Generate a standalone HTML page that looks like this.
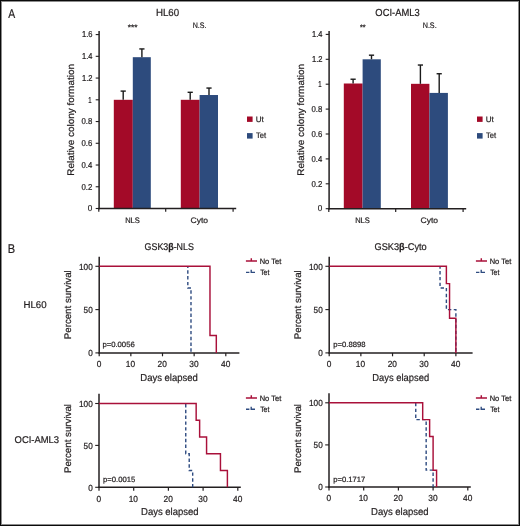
<!DOCTYPE html><html><head><meta charset="utf-8"><style>html,body{margin:0;padding:0;background:#fff;}svg{display:block;will-change:transform;text-rendering:geometricPrecision;}</style></head><body>
<svg width="520" height="526" viewBox="0 0 520 526" font-family='"Liberation Sans", sans-serif'>
<rect x="0" y="0" width="520" height="526" fill="#fff"/>
<text x="8.28" y="17.80" font-size="12.6" textLength="6.94" lengthAdjust="spacingAndGlyphs" fill="#231f20" stroke="#231f20" stroke-width="0.22">A</text>
<text x="7.69" y="252.50" font-size="12.6" textLength="7.39" lengthAdjust="spacingAndGlyphs" fill="#231f20" stroke="#231f20" stroke-width="0.22">B</text>
<rect x="113.80" y="99.80" width="19.00" height="108.70" fill="#a30a28"/>
<rect x="132.80" y="57.19" width="18.00" height="151.31" fill="#2d4b7d"/>
<rect x="180.80" y="99.80" width="18.80" height="108.70" fill="#a30a28"/>
<rect x="199.60" y="95.02" width="18.40" height="113.48" fill="#2d4b7d"/>
<line x1="123.20" y1="99.80" x2="123.20" y2="91.10" stroke="#1a1a1a" stroke-width="1.4"/>
<line x1="120.60" y1="91.10" x2="125.80" y2="91.10" stroke="#1a1a1a" stroke-width="1.4"/>
<line x1="141.90" y1="57.19" x2="141.90" y2="48.93" stroke="#1a1a1a" stroke-width="1.4"/>
<line x1="139.30" y1="48.93" x2="144.50" y2="48.93" stroke="#1a1a1a" stroke-width="1.4"/>
<line x1="190.20" y1="99.80" x2="190.20" y2="92.30" stroke="#1a1a1a" stroke-width="1.4"/>
<line x1="187.60" y1="92.30" x2="192.80" y2="92.30" stroke="#1a1a1a" stroke-width="1.4"/>
<line x1="209.00" y1="95.02" x2="209.00" y2="88.06" stroke="#1a1a1a" stroke-width="1.4"/>
<line x1="206.40" y1="88.06" x2="211.60" y2="88.06" stroke="#1a1a1a" stroke-width="1.4"/>
<line x1="99.10" y1="30.90" x2="99.10" y2="209.25" stroke="#231f20" stroke-width="1.5"/>
<line x1="98.35" y1="208.50" x2="236.20" y2="208.50" stroke="#231f20" stroke-width="1.5"/>
<line x1="95.70" y1="208.50" x2="99.10" y2="208.50" stroke="#231f20" stroke-width="1.1"/>
<text x="87.68" y="211.25" font-size="8.6" textLength="4.54" lengthAdjust="spacingAndGlyphs" fill="#231f20" stroke="#231f20" stroke-width="0.22">0</text>
<line x1="95.70" y1="186.76" x2="99.10" y2="186.76" stroke="#231f20" stroke-width="1.1"/>
<text x="81.49" y="189.51" font-size="8.6" textLength="10.90" lengthAdjust="spacingAndGlyphs" fill="#231f20" stroke="#231f20" stroke-width="0.22">0.2</text>
<line x1="95.70" y1="165.02" x2="99.10" y2="165.02" stroke="#231f20" stroke-width="1.1"/>
<text x="81.50" y="167.77" font-size="8.6" textLength="10.73" lengthAdjust="spacingAndGlyphs" fill="#231f20" stroke="#231f20" stroke-width="0.22">0.4</text>
<line x1="95.70" y1="143.28" x2="99.10" y2="143.28" stroke="#231f20" stroke-width="1.1"/>
<text x="81.50" y="146.03" font-size="8.6" textLength="10.85" lengthAdjust="spacingAndGlyphs" fill="#231f20" stroke="#231f20" stroke-width="0.22">0.6</text>
<line x1="95.70" y1="121.54" x2="99.10" y2="121.54" stroke="#231f20" stroke-width="1.1"/>
<text x="81.50" y="124.29" font-size="8.6" textLength="10.84" lengthAdjust="spacingAndGlyphs" fill="#231f20" stroke="#231f20" stroke-width="0.22">0.8</text>
<line x1="95.70" y1="99.80" x2="99.10" y2="99.80" stroke="#231f20" stroke-width="1.1"/>
<text x="88.24" y="102.55" font-size="8.6" textLength="3.35" lengthAdjust="spacingAndGlyphs" fill="#231f20" stroke="#231f20" stroke-width="0.22">1</text>
<line x1="95.70" y1="78.06" x2="99.10" y2="78.06" stroke="#231f20" stroke-width="1.1"/>
<text x="82.02" y="80.81" font-size="8.6" textLength="10.56" lengthAdjust="spacingAndGlyphs" fill="#231f20" stroke="#231f20" stroke-width="0.22">1.2</text>
<line x1="95.70" y1="56.32" x2="99.10" y2="56.32" stroke="#231f20" stroke-width="1.1"/>
<text x="82.03" y="59.07" font-size="8.6" textLength="10.39" lengthAdjust="spacingAndGlyphs" fill="#231f20" stroke="#231f20" stroke-width="0.22">1.4</text>
<line x1="95.70" y1="34.58" x2="99.10" y2="34.58" stroke="#231f20" stroke-width="1.1"/>
<text x="82.02" y="37.33" font-size="8.6" textLength="10.51" lengthAdjust="spacingAndGlyphs" fill="#231f20" stroke="#231f20" stroke-width="0.22">1.6</text>
<line x1="98.80" y1="208.50" x2="98.80" y2="211.70" stroke="#231f20" stroke-width="1.2"/>
<line x1="165.70" y1="208.50" x2="165.70" y2="211.70" stroke="#231f20" stroke-width="1.2"/>
<line x1="233.10" y1="208.50" x2="233.10" y2="211.70" stroke="#231f20" stroke-width="1.2"/>
<text x="125.18" y="222.70" font-size="8.0" textLength="14.66" lengthAdjust="spacingAndGlyphs" fill="#231f20" stroke="#231f20" stroke-width="0.22">NLS</text>
<text x="190.57" y="222.90" font-size="8.0" textLength="17.49" lengthAdjust="spacingAndGlyphs" fill="#231f20" stroke="#231f20" stroke-width="0.22">Cyto</text>
<rect x="247.00" y="116.50" width="5.60" height="5.40" fill="#a30a28"/>
<rect x="247.00" y="133.10" width="5.60" height="5.50" fill="#2d4b7d"/>
<text x="255.68" y="121.90" font-size="8.0" textLength="7.97" lengthAdjust="spacingAndGlyphs" fill="#231f20" stroke="#231f20" stroke-width="0.22">Ut</text>
<text x="255.94" y="138.40" font-size="8.0" textLength="10.11" lengthAdjust="spacingAndGlyphs" fill="#231f20" stroke="#231f20" stroke-width="0.22">Tet</text>
<text x="155.90" y="16.00" font-size="10.2" textLength="23.17" lengthAdjust="spacingAndGlyphs" fill="#231f20" stroke="#231f20" stroke-width="0.22">HL60</text>
<text x="127.77" y="30.20" font-size="7.9" textLength="9.66" lengthAdjust="spacingAndGlyphs" fill="#231f20" stroke="#231f20" stroke-width="0.22">***</text>
<text x="192.72" y="28.30" font-size="8.0" textLength="13.72" lengthAdjust="spacingAndGlyphs" fill="#231f20" stroke="#231f20" stroke-width="0.22">N.S.</text>
<text transform="translate(74.10,174.90) rotate(-90)" x="-0.82" y="0" font-size="9.6" textLength="111.66" lengthAdjust="spacingAndGlyphs" fill="#231f20" stroke="#231f20" stroke-width="0.22">Relative colony formation</text>
<rect x="343.80" y="83.50" width="18.80" height="125.20" fill="#a30a28"/>
<rect x="362.60" y="59.30" width="18.20" height="149.40" fill="#2d4b7d"/>
<rect x="411.00" y="83.83" width="18.40" height="124.87" fill="#a30a28"/>
<rect x="429.40" y="92.91" width="18.50" height="115.79" fill="#2d4b7d"/>
<line x1="353.10" y1="83.50" x2="353.10" y2="79.22" stroke="#1a1a1a" stroke-width="1.4"/>
<line x1="350.50" y1="79.22" x2="355.70" y2="79.22" stroke="#1a1a1a" stroke-width="1.4"/>
<line x1="371.50" y1="59.30" x2="371.50" y2="55.19" stroke="#1a1a1a" stroke-width="1.4"/>
<line x1="368.90" y1="55.19" x2="374.10" y2="55.19" stroke="#1a1a1a" stroke-width="1.4"/>
<line x1="420.40" y1="83.83" x2="420.40" y2="65.03" stroke="#1a1a1a" stroke-width="1.4"/>
<line x1="417.80" y1="65.03" x2="423.00" y2="65.03" stroke="#1a1a1a" stroke-width="1.4"/>
<line x1="439.20" y1="92.91" x2="439.20" y2="73.74" stroke="#1a1a1a" stroke-width="1.4"/>
<line x1="436.60" y1="73.74" x2="441.80" y2="73.74" stroke="#1a1a1a" stroke-width="1.4"/>
<line x1="329.10" y1="30.90" x2="329.10" y2="209.45" stroke="#231f20" stroke-width="1.5"/>
<line x1="328.35" y1="208.70" x2="466.20" y2="208.70" stroke="#231f20" stroke-width="1.5"/>
<line x1="325.70" y1="208.70" x2="329.10" y2="208.70" stroke="#231f20" stroke-width="1.1"/>
<text x="317.68" y="211.45" font-size="8.6" textLength="4.54" lengthAdjust="spacingAndGlyphs" fill="#231f20" stroke="#231f20" stroke-width="0.22">0</text>
<line x1="325.70" y1="183.80" x2="329.10" y2="183.80" stroke="#231f20" stroke-width="1.1"/>
<text x="311.49" y="186.55" font-size="8.6" textLength="10.90" lengthAdjust="spacingAndGlyphs" fill="#231f20" stroke="#231f20" stroke-width="0.22">0.2</text>
<line x1="325.70" y1="158.90" x2="329.10" y2="158.90" stroke="#231f20" stroke-width="1.1"/>
<text x="311.50" y="161.65" font-size="8.6" textLength="10.73" lengthAdjust="spacingAndGlyphs" fill="#231f20" stroke="#231f20" stroke-width="0.22">0.4</text>
<line x1="325.70" y1="134.00" x2="329.10" y2="134.00" stroke="#231f20" stroke-width="1.1"/>
<text x="311.50" y="136.75" font-size="8.6" textLength="10.85" lengthAdjust="spacingAndGlyphs" fill="#231f20" stroke="#231f20" stroke-width="0.22">0.6</text>
<line x1="325.70" y1="109.10" x2="329.10" y2="109.10" stroke="#231f20" stroke-width="1.1"/>
<text x="311.50" y="111.85" font-size="8.6" textLength="10.84" lengthAdjust="spacingAndGlyphs" fill="#231f20" stroke="#231f20" stroke-width="0.22">0.8</text>
<line x1="325.70" y1="84.20" x2="329.10" y2="84.20" stroke="#231f20" stroke-width="1.1"/>
<text x="318.24" y="86.95" font-size="8.6" textLength="3.35" lengthAdjust="spacingAndGlyphs" fill="#231f20" stroke="#231f20" stroke-width="0.22">1</text>
<line x1="325.70" y1="59.30" x2="329.10" y2="59.30" stroke="#231f20" stroke-width="1.1"/>
<text x="312.02" y="62.05" font-size="8.6" textLength="10.56" lengthAdjust="spacingAndGlyphs" fill="#231f20" stroke="#231f20" stroke-width="0.22">1.2</text>
<line x1="325.70" y1="34.40" x2="329.10" y2="34.40" stroke="#231f20" stroke-width="1.1"/>
<text x="312.03" y="37.15" font-size="8.6" textLength="10.39" lengthAdjust="spacingAndGlyphs" fill="#231f20" stroke="#231f20" stroke-width="0.22">1.4</text>
<line x1="328.80" y1="208.70" x2="328.80" y2="211.90" stroke="#231f20" stroke-width="1.2"/>
<line x1="395.70" y1="208.70" x2="395.70" y2="211.90" stroke="#231f20" stroke-width="1.2"/>
<line x1="463.10" y1="208.70" x2="463.10" y2="211.90" stroke="#231f20" stroke-width="1.2"/>
<text x="355.18" y="222.70" font-size="8.0" textLength="14.66" lengthAdjust="spacingAndGlyphs" fill="#231f20" stroke="#231f20" stroke-width="0.22">NLS</text>
<text x="420.57" y="222.90" font-size="8.0" textLength="17.49" lengthAdjust="spacingAndGlyphs" fill="#231f20" stroke="#231f20" stroke-width="0.22">Cyto</text>
<rect x="477.00" y="116.50" width="5.60" height="5.40" fill="#a30a28"/>
<rect x="477.00" y="133.10" width="5.60" height="5.50" fill="#2d4b7d"/>
<text x="485.68" y="121.90" font-size="8.0" textLength="7.97" lengthAdjust="spacingAndGlyphs" fill="#231f20" stroke="#231f20" stroke-width="0.22">Ut</text>
<text x="485.94" y="138.40" font-size="8.0" textLength="10.11" lengthAdjust="spacingAndGlyphs" fill="#231f20" stroke="#231f20" stroke-width="0.22">Tet</text>
<text x="375.36" y="16.00" font-size="10.2" textLength="44.26" lengthAdjust="spacingAndGlyphs" fill="#231f20" stroke="#231f20" stroke-width="0.22">OCI-AML3</text>
<text x="359.88" y="30.20" font-size="7.9" textLength="5.63" lengthAdjust="spacingAndGlyphs" fill="#231f20" stroke="#231f20" stroke-width="0.22">**</text>
<text x="422.71" y="28.30" font-size="8.0" textLength="13.94" lengthAdjust="spacingAndGlyphs" fill="#231f20" stroke="#231f20" stroke-width="0.22">N.S.</text>
<text transform="translate(304.10,174.90) rotate(-90)" x="-0.82" y="0" font-size="9.6" textLength="111.66" lengthAdjust="spacingAndGlyphs" fill="#231f20" stroke="#231f20" stroke-width="0.22">Relative colony formation</text>
<text x="144.55" y="250.20" font-size="9.8" textLength="49.35" lengthAdjust="spacingAndGlyphs" fill="#231f20" stroke="#231f20" stroke-width="0.22">GSK3<tspan font-weight="bold">β</tspan>-NLS</text>
<text x="374.54" y="250.20" font-size="9.8" textLength="52.15" lengthAdjust="spacingAndGlyphs" fill="#231f20" stroke="#231f20" stroke-width="0.22">GSK3<tspan font-weight="bold">β</tspan>-Cyto</text>
<text x="23.51" y="308.20" font-size="9.8" textLength="23.07" lengthAdjust="spacingAndGlyphs" fill="#231f20" stroke="#231f20" stroke-width="0.22">HL60</text>
<text x="14.55" y="442.50" font-size="9.8" textLength="44.56" lengthAdjust="spacingAndGlyphs" fill="#231f20" stroke="#231f20" stroke-width="0.22">OCI-AML3</text>
<line x1="99.20" y1="256.70" x2="99.20" y2="353.60" stroke="#231f20" stroke-width="1.5"/>
<line x1="98.50" y1="352.90" x2="239.40" y2="352.90" stroke="#231f20" stroke-width="1.5"/>
<line x1="95.40" y1="352.90" x2="99.20" y2="352.90" stroke="#231f20" stroke-width="1.1"/>
<text x="88.15" y="356.10" font-size="8.8" textLength="4.58" lengthAdjust="spacingAndGlyphs" fill="#231f20" stroke="#231f20" stroke-width="0.22">0</text>
<line x1="95.40" y1="309.60" x2="99.20" y2="309.60" stroke="#231f20" stroke-width="1.1"/>
<text x="83.57" y="312.80" font-size="8.8" textLength="9.15" lengthAdjust="spacingAndGlyphs" fill="#231f20" stroke="#231f20" stroke-width="0.22">50</text>
<line x1="95.40" y1="266.30" x2="99.20" y2="266.30" stroke="#231f20" stroke-width="1.1"/>
<text x="78.99" y="269.50" font-size="8.8" textLength="13.73" lengthAdjust="spacingAndGlyphs" fill="#231f20" stroke="#231f20" stroke-width="0.22">100</text>
<line x1="99.20" y1="352.90" x2="99.20" y2="356.30" stroke="#231f20" stroke-width="1.2"/>
<text x="96.68" y="367.20" font-size="8.8" textLength="4.65" lengthAdjust="spacingAndGlyphs" fill="#231f20" stroke="#231f20" stroke-width="0.22">0</text>
<line x1="130.85" y1="352.90" x2="130.85" y2="356.30" stroke="#231f20" stroke-width="1.2"/>
<text x="125.85" y="367.20" font-size="8.8" textLength="9.30" lengthAdjust="spacingAndGlyphs" fill="#231f20" stroke="#231f20" stroke-width="0.22">10</text>
<line x1="162.50" y1="352.90" x2="162.50" y2="356.30" stroke="#231f20" stroke-width="1.2"/>
<text x="157.60" y="367.20" font-size="8.8" textLength="9.30" lengthAdjust="spacingAndGlyphs" fill="#231f20" stroke="#231f20" stroke-width="0.22">20</text>
<line x1="194.15" y1="352.90" x2="194.15" y2="356.30" stroke="#231f20" stroke-width="1.2"/>
<text x="189.30" y="367.20" font-size="8.8" textLength="9.30" lengthAdjust="spacingAndGlyphs" fill="#231f20" stroke="#231f20" stroke-width="0.22">30</text>
<line x1="225.80" y1="352.90" x2="225.80" y2="356.30" stroke="#231f20" stroke-width="1.2"/>
<text x="221.02" y="367.20" font-size="8.8" textLength="9.30" lengthAdjust="spacingAndGlyphs" fill="#231f20" stroke="#231f20" stroke-width="0.22">40</text>
<path d="M187.82,266.30 L187.82,287.95 L190.99,287.95 L190.99,352.90" fill="none" stroke="#2e4b80" stroke-width="1.4" stroke-dasharray="3.4,2.4" stroke-dashoffset="1.8"/>
<path d="M99.20,266.30 L209.98,266.30 L209.98,335.58 L216.31,335.58 L216.31,352.90" fill="none" stroke="#a9103a" stroke-width="1.45"/>
<text x="102.40" y="347.30" font-size="7.6" textLength="32.33" lengthAdjust="spacingAndGlyphs" fill="#231f20" stroke="#231f20" stroke-width="0.22">p=0.0056</text>
<path d="M245.90,261.00 L257.00,261.00 M251.30,261.00 L251.30,258.20" fill="none" stroke="#a9103a" stroke-width="1.45"/>
<path d="M246.00,272.30 L249.40,272.30 M251.20,269.70 L251.20,272.30 L255.00,272.30" fill="none" stroke="#2e4b80" stroke-width="1.35"/>
<text x="259.71" y="263.55" font-size="7.8" textLength="21.54" lengthAdjust="spacingAndGlyphs" fill="#231f20" stroke="#231f20" stroke-width="0.22">No Tet</text>
<text x="260.16" y="274.55" font-size="7.8" textLength="9.19" lengthAdjust="spacingAndGlyphs" fill="#231f20" stroke="#231f20" stroke-width="0.22">Tet</text>
<text x="140.32" y="381.00" font-size="10.1" textLength="57.49" lengthAdjust="spacingAndGlyphs" fill="#231f20" stroke="#231f20" stroke-width="0.22">Days elapsed</text>
<text transform="translate(71.00,338.40) rotate(-90)" x="-0.80" y="0" font-size="9.6" textLength="68.94" lengthAdjust="spacingAndGlyphs" fill="#231f20" stroke="#231f20" stroke-width="0.22">Percent survival</text>
<line x1="329.20" y1="256.70" x2="329.20" y2="353.60" stroke="#231f20" stroke-width="1.5"/>
<line x1="328.50" y1="352.90" x2="472.60" y2="352.90" stroke="#231f20" stroke-width="1.5"/>
<line x1="325.40" y1="352.90" x2="329.20" y2="352.90" stroke="#231f20" stroke-width="1.1"/>
<text x="318.15" y="356.10" font-size="8.8" textLength="4.58" lengthAdjust="spacingAndGlyphs" fill="#231f20" stroke="#231f20" stroke-width="0.22">0</text>
<line x1="325.40" y1="309.60" x2="329.20" y2="309.60" stroke="#231f20" stroke-width="1.1"/>
<text x="313.57" y="312.80" font-size="8.8" textLength="9.15" lengthAdjust="spacingAndGlyphs" fill="#231f20" stroke="#231f20" stroke-width="0.22">50</text>
<line x1="325.40" y1="266.30" x2="329.20" y2="266.30" stroke="#231f20" stroke-width="1.1"/>
<text x="308.99" y="269.50" font-size="8.8" textLength="13.73" lengthAdjust="spacingAndGlyphs" fill="#231f20" stroke="#231f20" stroke-width="0.22">100</text>
<line x1="329.20" y1="352.90" x2="329.20" y2="356.30" stroke="#231f20" stroke-width="1.2"/>
<text x="326.68" y="367.20" font-size="8.8" textLength="4.65" lengthAdjust="spacingAndGlyphs" fill="#231f20" stroke="#231f20" stroke-width="0.22">0</text>
<line x1="360.87" y1="352.90" x2="360.87" y2="356.30" stroke="#231f20" stroke-width="1.2"/>
<text x="355.87" y="367.20" font-size="8.8" textLength="9.30" lengthAdjust="spacingAndGlyphs" fill="#231f20" stroke="#231f20" stroke-width="0.22">10</text>
<line x1="392.54" y1="352.90" x2="392.54" y2="356.30" stroke="#231f20" stroke-width="1.2"/>
<text x="387.64" y="367.20" font-size="8.8" textLength="9.30" lengthAdjust="spacingAndGlyphs" fill="#231f20" stroke="#231f20" stroke-width="0.22">20</text>
<line x1="424.21" y1="352.90" x2="424.21" y2="356.30" stroke="#231f20" stroke-width="1.2"/>
<text x="419.36" y="367.20" font-size="8.8" textLength="9.30" lengthAdjust="spacingAndGlyphs" fill="#231f20" stroke="#231f20" stroke-width="0.22">30</text>
<line x1="455.88" y1="352.90" x2="455.88" y2="356.30" stroke="#231f20" stroke-width="1.2"/>
<text x="451.10" y="367.20" font-size="8.8" textLength="9.30" lengthAdjust="spacingAndGlyphs" fill="#231f20" stroke="#231f20" stroke-width="0.22">40</text>
<path d="M440.04,266.30 L440.04,287.95 L446.38,287.95 L446.38,309.60 L455.88,309.60 L455.88,352.90" fill="none" stroke="#2e4b80" stroke-width="1.4" stroke-dasharray="3.4,2.4" stroke-dashoffset="1.0"/>
<path d="M329.20,266.30 L446.38,266.30 L446.38,283.62 L449.55,283.62 L449.55,318.26 L455.88,318.26 L455.88,352.90" fill="none" stroke="#a9103a" stroke-width="1.45"/>
<text x="333.31" y="346.80" font-size="7.6" textLength="32.23" lengthAdjust="spacingAndGlyphs" fill="#231f20" stroke="#231f20" stroke-width="0.22">p=0.8898</text>
<path d="M475.90,261.00 L487.00,261.00 M481.30,261.00 L481.30,258.20" fill="none" stroke="#a9103a" stroke-width="1.45"/>
<path d="M476.00,272.30 L479.40,272.30 M481.20,269.70 L481.20,272.30 L485.00,272.30" fill="none" stroke="#2e4b80" stroke-width="1.35"/>
<text x="489.71" y="263.55" font-size="7.8" textLength="21.54" lengthAdjust="spacingAndGlyphs" fill="#231f20" stroke="#231f20" stroke-width="0.22">No Tet</text>
<text x="490.16" y="274.55" font-size="7.8" textLength="9.19" lengthAdjust="spacingAndGlyphs" fill="#231f20" stroke="#231f20" stroke-width="0.22">Tet</text>
<text x="372.33" y="381.00" font-size="10.1" textLength="56.77" lengthAdjust="spacingAndGlyphs" fill="#231f20" stroke="#231f20" stroke-width="0.22">Days elapsed</text>
<text transform="translate(300.90,338.40) rotate(-90)" x="-0.80" y="0" font-size="9.6" textLength="68.94" lengthAdjust="spacingAndGlyphs" fill="#231f20" stroke="#231f20" stroke-width="0.22">Percent survival</text>
<line x1="99.00" y1="393.80" x2="99.00" y2="488.00" stroke="#231f20" stroke-width="1.5"/>
<line x1="98.30" y1="487.30" x2="240.80" y2="487.30" stroke="#231f20" stroke-width="1.5"/>
<line x1="95.20" y1="487.30" x2="99.00" y2="487.30" stroke="#231f20" stroke-width="1.1"/>
<text x="88.15" y="490.50" font-size="8.8" textLength="4.58" lengthAdjust="spacingAndGlyphs" fill="#231f20" stroke="#231f20" stroke-width="0.22">0</text>
<line x1="95.20" y1="445.40" x2="99.00" y2="445.40" stroke="#231f20" stroke-width="1.1"/>
<text x="83.57" y="448.60" font-size="8.8" textLength="9.15" lengthAdjust="spacingAndGlyphs" fill="#231f20" stroke="#231f20" stroke-width="0.22">50</text>
<line x1="95.20" y1="403.50" x2="99.00" y2="403.50" stroke="#231f20" stroke-width="1.1"/>
<text x="78.99" y="406.70" font-size="8.8" textLength="13.73" lengthAdjust="spacingAndGlyphs" fill="#231f20" stroke="#231f20" stroke-width="0.22">100</text>
<line x1="99.00" y1="487.30" x2="99.00" y2="490.70" stroke="#231f20" stroke-width="1.2"/>
<text x="96.48" y="501.60" font-size="8.8" textLength="4.65" lengthAdjust="spacingAndGlyphs" fill="#231f20" stroke="#231f20" stroke-width="0.22">0</text>
<line x1="133.70" y1="487.30" x2="133.70" y2="490.70" stroke="#231f20" stroke-width="1.2"/>
<text x="128.70" y="501.60" font-size="8.8" textLength="9.30" lengthAdjust="spacingAndGlyphs" fill="#231f20" stroke="#231f20" stroke-width="0.22">10</text>
<line x1="168.40" y1="487.30" x2="168.40" y2="490.70" stroke="#231f20" stroke-width="1.2"/>
<text x="163.50" y="501.60" font-size="8.8" textLength="9.30" lengthAdjust="spacingAndGlyphs" fill="#231f20" stroke="#231f20" stroke-width="0.22">20</text>
<line x1="203.10" y1="487.30" x2="203.10" y2="490.70" stroke="#231f20" stroke-width="1.2"/>
<text x="198.25" y="501.60" font-size="8.8" textLength="9.30" lengthAdjust="spacingAndGlyphs" fill="#231f20" stroke="#231f20" stroke-width="0.22">30</text>
<line x1="237.80" y1="487.30" x2="237.80" y2="490.70" stroke="#231f20" stroke-width="1.2"/>
<text x="233.02" y="501.60" font-size="8.8" textLength="9.30" lengthAdjust="spacingAndGlyphs" fill="#231f20" stroke="#231f20" stroke-width="0.22">40</text>
<path d="M185.75,403.50 L185.75,453.78 L189.22,453.78 L189.22,470.54 L192.69,470.54 L192.69,487.30" fill="none" stroke="#2e4b80" stroke-width="1.4" stroke-dasharray="3.4,2.4" stroke-dashoffset="5.3"/>
<path d="M99.00,403.50 L196.16,403.50 L196.16,420.26 L199.63,420.26 L199.63,437.02 L206.57,437.02 L206.57,453.78 L220.45,453.78 L220.45,470.54 L227.39,470.54 L227.39,487.30" fill="none" stroke="#a9103a" stroke-width="1.45"/>
<text x="103.01" y="481.70" font-size="7.6" textLength="32.22" lengthAdjust="spacingAndGlyphs" fill="#231f20" stroke="#231f20" stroke-width="0.22">p=0.0015</text>
<path d="M245.90,397.95 L257.00,397.95 M251.30,397.95 L251.30,395.15" fill="none" stroke="#a9103a" stroke-width="1.45"/>
<path d="M246.00,409.25 L249.40,409.25 M251.20,406.65 L251.20,409.25 L255.00,409.25" fill="none" stroke="#2e4b80" stroke-width="1.35"/>
<text x="259.71" y="400.50" font-size="7.8" textLength="21.54" lengthAdjust="spacingAndGlyphs" fill="#231f20" stroke="#231f20" stroke-width="0.22">No Tet</text>
<text x="260.16" y="411.50" font-size="7.8" textLength="9.19" lengthAdjust="spacingAndGlyphs" fill="#231f20" stroke="#231f20" stroke-width="0.22">Tet</text>
<text x="141.02" y="515.30" font-size="10.1" textLength="57.59" lengthAdjust="spacingAndGlyphs" fill="#231f20" stroke="#231f20" stroke-width="0.22">Days elapsed</text>
<text transform="translate(71.00,472.30) rotate(-90)" x="-0.80" y="0" font-size="9.6" textLength="69.05" lengthAdjust="spacingAndGlyphs" fill="#231f20" stroke="#231f20" stroke-width="0.22">Percent survival</text>
<line x1="329.00" y1="393.20" x2="329.00" y2="487.70" stroke="#231f20" stroke-width="1.5"/>
<line x1="328.30" y1="487.00" x2="470.80" y2="487.00" stroke="#231f20" stroke-width="1.5"/>
<line x1="325.20" y1="487.00" x2="329.00" y2="487.00" stroke="#231f20" stroke-width="1.1"/>
<text x="318.15" y="490.20" font-size="8.8" textLength="4.58" lengthAdjust="spacingAndGlyphs" fill="#231f20" stroke="#231f20" stroke-width="0.22">0</text>
<line x1="325.20" y1="444.90" x2="329.00" y2="444.90" stroke="#231f20" stroke-width="1.1"/>
<text x="313.57" y="448.10" font-size="8.8" textLength="9.15" lengthAdjust="spacingAndGlyphs" fill="#231f20" stroke="#231f20" stroke-width="0.22">50</text>
<line x1="325.20" y1="402.80" x2="329.00" y2="402.80" stroke="#231f20" stroke-width="1.1"/>
<text x="308.99" y="406.00" font-size="8.8" textLength="13.73" lengthAdjust="spacingAndGlyphs" fill="#231f20" stroke="#231f20" stroke-width="0.22">100</text>
<line x1="329.00" y1="487.00" x2="329.00" y2="490.40" stroke="#231f20" stroke-width="1.2"/>
<text x="326.48" y="501.30" font-size="8.8" textLength="4.65" lengthAdjust="spacingAndGlyphs" fill="#231f20" stroke="#231f20" stroke-width="0.22">0</text>
<line x1="363.70" y1="487.00" x2="363.70" y2="490.40" stroke="#231f20" stroke-width="1.2"/>
<text x="358.70" y="501.30" font-size="8.8" textLength="9.30" lengthAdjust="spacingAndGlyphs" fill="#231f20" stroke="#231f20" stroke-width="0.22">10</text>
<line x1="398.40" y1="487.00" x2="398.40" y2="490.40" stroke="#231f20" stroke-width="1.2"/>
<text x="393.50" y="501.30" font-size="8.8" textLength="9.30" lengthAdjust="spacingAndGlyphs" fill="#231f20" stroke="#231f20" stroke-width="0.22">20</text>
<line x1="433.10" y1="487.00" x2="433.10" y2="490.40" stroke="#231f20" stroke-width="1.2"/>
<text x="428.25" y="501.30" font-size="8.8" textLength="9.30" lengthAdjust="spacingAndGlyphs" fill="#231f20" stroke="#231f20" stroke-width="0.22">30</text>
<line x1="467.80" y1="487.00" x2="467.80" y2="490.40" stroke="#231f20" stroke-width="1.2"/>
<text x="463.02" y="501.30" font-size="8.8" textLength="9.30" lengthAdjust="spacingAndGlyphs" fill="#231f20" stroke="#231f20" stroke-width="0.22">40</text>
<path d="M415.75,402.80 L415.75,419.64 L426.16,419.64 L426.16,470.16 L433.10,470.16 L433.10,487.00" fill="none" stroke="#2e4b80" stroke-width="1.4" stroke-dasharray="3.4,2.4" stroke-dashoffset="5.7"/>
<path d="M329.00,402.80 L422.69,402.80 L422.69,419.64 L429.63,419.64 L429.63,436.48 L433.10,436.48 L433.10,470.16 L436.57,470.16 L436.57,487.00" fill="none" stroke="#a9103a" stroke-width="1.45"/>
<text x="333.21" y="482.20" font-size="7.6" textLength="32.08" lengthAdjust="spacingAndGlyphs" fill="#231f20" stroke="#231f20" stroke-width="0.22">p=0.1717</text>
<path d="M475.90,397.95 L487.00,397.95 M481.30,397.95 L481.30,395.15" fill="none" stroke="#a9103a" stroke-width="1.45"/>
<path d="M476.00,409.25 L479.40,409.25 M481.20,406.65 L481.20,409.25 L485.00,409.25" fill="none" stroke="#2e4b80" stroke-width="1.35"/>
<text x="489.71" y="400.50" font-size="7.8" textLength="21.54" lengthAdjust="spacingAndGlyphs" fill="#231f20" stroke="#231f20" stroke-width="0.22">No Tet</text>
<text x="490.16" y="411.50" font-size="7.8" textLength="9.19" lengthAdjust="spacingAndGlyphs" fill="#231f20" stroke="#231f20" stroke-width="0.22">Tet</text>
<text x="371.02" y="515.30" font-size="10.1" textLength="57.59" lengthAdjust="spacingAndGlyphs" fill="#231f20" stroke="#231f20" stroke-width="0.22">Days elapsed</text>
<text transform="translate(300.90,472.30) rotate(-90)" x="-0.80" y="0" font-size="9.6" textLength="69.05" lengthAdjust="spacingAndGlyphs" fill="#231f20" stroke="#231f20" stroke-width="0.22">Percent survival</text>
<rect x="1.5" y="1.5" width="517" height="523" fill="none" stroke="#8c8c8c" stroke-width="1"/>
<rect x="0.5" y="0.5" width="519" height="525" fill="none" stroke="#0a0a0a" stroke-width="1"/>
</svg></body></html>
